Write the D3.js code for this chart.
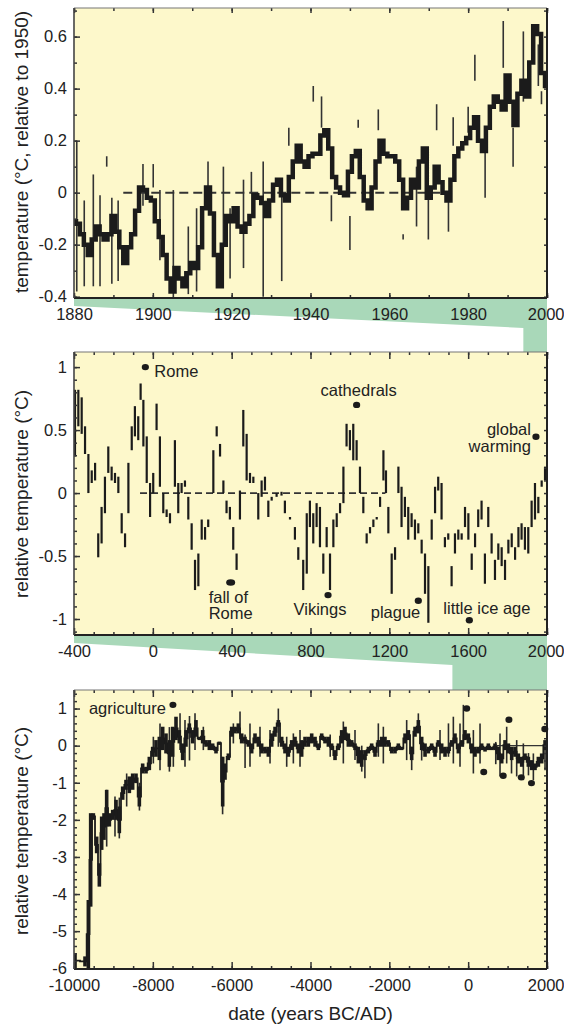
<!DOCTYPE html>
<html>
<head>
<meta charset="utf-8">
<script src="https://cdn.jsdelivr.net/npm/d3@7"></script>
<style>
body{margin:0;background:#fff;}
svg{display:block;font-family:"Liberation Sans",Arial,Helvetica,sans-serif;}
.tick text{font-size:16.5px;fill:#222;}
.domain{display:none;}
.tick line{stroke:#333;stroke-width:1.5;}
</style>
</head>
<body>
<svg id="chart" width="564" height="1029"></svg>
<script>
// ---- panel 1: instrumental record 1880-2000 (°C relative to 1950)
const modernYears = [
  1880,1881,1882,1883,1884,1885,1886,1887,1888,1889,
  1890,1891,1892,1893,1894,1895,1896,1897,1898,1899,
  1900,1901,1902,1903,1904,1905,1906,1907,1908,1909,
  1910,1911,1912,1913,1914,1915,1916,1917,1918,1919,
  1920,1921,1922,1923,1924,1925,1926,1927,1928,1929,
  1930,1931,1932,1933,1934,1935,1936,1937,1938,1939,
  1940,1941,1942,1943,1944,1945,1946,1947,1948,1949,
  1950,1951,1952,1953,1954,1955,1956,1957,1958,1959,
  1960,1961,1962,1963,1964,1965,1966,1967,1968,1969,
  1970,1971,1972,1973,1974,1975,1976,1977,1978,1979,
  1980,1981,1982,1983,1984,1985,1986,1987,1988,1989,
  1990,1991,1992,1993,1994,1995,1996,1997,1998,1999,2000];
const modernTemps = [
  -0.11,-0.12,-0.16,-0.20,-0.24,-0.18,-0.13,-0.16,-0.18,-0.16,
  -0.09,-0.15,-0.21,-0.27,-0.21,-0.16,-0.07,0.02,0.01,-0.02,
  -0.03,-0.11,-0.17,-0.24,-0.33,-0.38,-0.29,-0.33,-0.36,-0.31,
  -0.27,-0.29,-0.21,-0.06,0.02,-0.08,-0.24,-0.36,-0.20,-0.09,
  -0.11,-0.06,-0.13,-0.15,-0.12,-0.09,-0.01,-0.02,-0.04,-0.09,
  -0.03,0.03,0.05,-0.01,-0.03,0.06,0.12,0.18,0.12,0.10,
  0.14,0.15,0.15,0.22,0.24,0.17,0.06,0.02,0.00,-0.01,
  0.08,0.14,0.16,0.06,-0.03,-0.06,0.02,0.12,0.20,0.15,
  0.14,0.14,0.12,0.05,-0.06,-0.02,0.05,0.02,0.12,0.17,
  -0.02,0.02,0.10,0.04,0.00,-0.03,0.05,0.14,0.17,0.19,
  0.21,0.25,0.29,0.20,0.16,0.25,0.33,0.37,0.35,0.32,
  0.45,0.35,0.26,0.38,0.43,0.37,0.50,0.64,0.61,0.46,0.41];
// thin single-reading spikes: [year, low, high]
const modernSpikes = [
  [1880.7,-0.38,0.20],[1882.6,-0.36,-0.03],[1884.9,-0.36,0.07],[1886.6,-0.36,-0.01],
  [1888.3,0.10,0.14],[1889.6,-0.35,-0.02],[1891.2,-0.34,-0.03],[1897.5,-0.05,0.11],
  [1900.1,0.02,0.11],[1901.8,-0.26,0.01],[1905.2,-0.42,0.01],[1909,-0.39,-0.13],
  [1911.1,-0.38,-0.06],[1914,0.0,0.12],[1917.9,-0.21,0.10],[1919.6,-0.33,-0.06],
  [1923,-0.29,0.05],[1925,0.0,0.08],[1928,-0.40,0.12],[1932.7,-0.34,0.02],
  [1934.5,0.18,0.25],[1940.7,0.35,0.41],[1942.8,0.25,0.37],[1945.3,-0.11,-0.01],
  [1950,-0.22,-0.09],[1952.1,0.25,0.28],[1957.2,0.24,0.32],[1963.5,-0.18,-0.16],
  [1966.9,-0.13,0.10],[1969.9,-0.18,-0.01],[1972,0.24,0.34],[1975,-0.15,-0.01],
  [1976.2,0.18,0.29],[1980,0.23,0.33],[1981.7,0.43,0.53],[1984.3,-0.02,0.16],
  [1988.9,0.48,0.66],[1991.4,0.10,0.25],[1994,0.35,0.62],[1997.8,0.41,0.57],[1998.6,0.34,0.39]];
const modernBaseline = [1892.5, 1975];

// ---- panel 2: last 2400 years, segments low..high
const histYears = [
  -395,-378,-361,-344,-327,-310,-293,-277,-260,-243,-226,-209,-192,-175,-158,-141,-124,-107,-91,-74,
  -62,-48,-31,-14,2,19,36,53,70,87,112,129,146,163,180,197,214,231,248,265,
  281,307,324,341,358,374,391,408,425,442,459,476,493,510,535,552,569,586,603,628,
  653,670,696,721,738,763,781,797,814,831,848,865,882,899,916,933,950,967,983,1000,
  1017,1034,1051,1068,1085,1102,1119,1136,1153,1170,1183,1195,1212,1229,1246,1262,1279,1296,1313,1330,
  1347,1364,1381,1398,1415,1432,1448,1465,1482,1499,1516,1533,1550,1567,1584,1601,1618,1635,1651,1668,
  1685,1702,1719,1736,1753,1770,1787,1804,1821,1838,1855,1871,1888,1905,1922,1939,1956,1973,1990];
const histHigh = [
  0.82,0.82,0.76,0.53,0.31,0.18,0.24,-0.32,-0.11,0.13,0.37,0.21,0.16,0.13,-0.16,-0.32,0.24,0.53,0.69,0.61,
  0.87,0.74,0.45,0.08,0.16,0.71,0.45,0.00,-0.13,-0.16,0.42,0.08,0.08,0.10,-0.03,-0.24,-0.53,-0.48,-0.21,-0.27,
  -0.21,0.34,0.53,0.39,0.10,-0.06,-0.11,-0.27,-0.48,0.02,0.66,0.47,0.16,0.13,0.00,0.10,0.13,-0.06,-0.03,0.00,
  0.01,-0.06,-0.19,-0.27,-0.43,-0.53,-0.16,-0.06,-0.16,-0.08,-0.11,-0.48,-0.27,-0.48,-0.21,-0.16,-0.08,0.21,0.55,0.50,
  0.55,0.42,0.21,-0.03,-0.32,-0.27,-0.21,-0.19,-0.03,0.34,0.18,-0.11,-0.48,-0.43,0.21,0.05,-0.03,-0.11,-0.16,-0.21,
  -0.24,-0.37,-0.48,-0.58,-0.21,0.05,0.13,0.08,-0.35,-0.32,-0.58,-0.32,-0.29,-0.32,-0.11,-0.16,-0.48,-0.32,-0.13,-0.06,
  -0.48,-0.11,-0.32,-0.53,-0.40,-0.43,-0.53,-0.37,-0.32,-0.43,-0.27,-0.24,-0.27,-0.27,-0.06,0.08,-0.03,0.10,0.21];
const histLow = [
  0.29,0.53,0.47,0.31,0.00,0.08,0.10,-0.51,-0.40,-0.16,0.16,0.10,0.08,0.00,-0.32,-0.43,-0.16,0.34,0.45,0.42,
  0.74,0.37,0.08,-0.19,0.00,0.50,0.05,-0.16,-0.19,-0.24,0.05,-0.16,0.00,0.05,-0.21,-0.45,-0.77,-0.74,-0.37,-0.37,
  -0.27,0.00,0.45,0.29,0.00,-0.16,-0.21,-0.45,-0.61,-0.21,0.37,0.10,0.08,0.08,-0.21,-0.03,0.02,-0.19,-0.06,-0.03,
  -0.02,-0.16,-0.21,-0.37,-0.53,-0.77,-0.64,-0.27,-0.40,-0.27,-0.43,-0.64,-0.43,-0.77,-0.43,-0.27,-0.16,-0.08,0.37,0.34,
  0.26,0.26,0.00,-0.16,-0.40,-0.32,-0.27,-0.21,-0.11,0.10,0.00,-0.32,-0.80,-0.53,0.00,-0.27,-0.19,-0.37,-0.27,-0.37,
  -0.32,-0.48,-0.80,-1.03,-0.37,-0.16,0.02,-0.21,-0.43,-0.37,-0.74,-0.48,-0.37,-0.37,-0.27,-0.37,-0.61,-0.43,-0.27,-0.21,
  -0.72,-0.27,-0.48,-0.69,-0.53,-0.58,-0.69,-0.48,-0.43,-0.53,-0.43,-0.37,-0.45,-0.48,-0.27,-0.21,-0.16,0.05,0.10];
const histBaseline = [-65, 1180];

// ---- panel 3: Holocene, segments low..high
const holoYears = [
  -9974,-9721,-9636,-9577,-9509,-9425,-9357,-9298,-9239,-9171,-9103,-9019,-8934,-8850,-8765,-8681,-8596,-8512,-8427,-8342,
  -8258,-8173,-8089,-8004,-7920,-7835,-7750,-7666,-7581,-7497,-7412,-7328,-7243,-7159,-7074,-6989,-6905,-6820,-6736,-6651,
  -6566,-6482,-6397,-6313,-6228,-6169,-6084,-6000,-5915,-5831,-5746,-5662,-5577,-5492,-5408,-5323,-5239,-5154,-5070,-4985,
  -4900,-4816,-4731,-4647,-4562,-4478,-4393,-4308,-4224,-4139,-4055,-3970,-3885,-3801,-3716,-3632,-3547,-3463,-3378,-3293,
  -3209,-3124,-3040,-2955,-2871,-2786,-2701,-2617,-2532,-2448,-2363,-2279,-2194,-2110,-2025,-1940,-1856,-1771,-1687,-1602,
  -1517,-1433,-1348,-1264,-1179,-1094,-1010,-925,-841,-756,-672,-587,-503,-418,-334,-249,-164,-80,5,89,
  174,259,343,428,512,597,681,766,851,935,1020,1104,1189,1273,1358,1443,1527,1612,1696,1781,1865,1950];
const holoHigh = [
  -5.59,-5.68,-4.16,-1.82,-1.82,-2.45,-3.17,-1.91,-1.82,-1.19,-1.82,-1.73,-1.46,-1.64,-1.10,-0.92,-0.83,-0.75,-0.75,-1.10,
  -0.48,-0.57,-0.30,-0.03,0.15,0.24,0.51,0.33,0.15,0.51,0.78,0.42,0.06,0.42,0.60,0.42,0.69,0.24,0.42,0.15,
  0.15,0.06,-0.03,0.11,-0.30,-0.48,-0.21,0.51,0.51,0.60,0.33,0.24,0.15,0.06,0.33,0.24,0.06,-0.03,-0.03,0.33,
  0.51,0.69,0.24,0.06,-0.03,0.15,0.24,0.06,0.15,0.24,0.24,0.33,0.24,0.06,0.33,0.24,0.24,0.06,-0.12,0.06,
  0.42,0.51,0.33,0.15,0.06,-0.03,-0.12,-0.12,-0.03,0.06,-0.03,0.15,0.24,0.24,0.15,-0.03,-0.03,0.06,-0.03,0.33,
  0.42,-0.03,0.51,0.69,0.24,0.06,-0.03,0.06,-0.03,0.15,0.06,-0.03,-0.03,0.15,0.33,0.06,0.15,0.42,0.33,0.06,
  -0.03,-0.03,0.06,-0.03,0.06,-0.03,0.06,-0.03,-0.21,0.15,0.06,-0.03,-0.03,-0.21,-0.30,-0.21,-0.30,-0.39,-0.48,-0.30,-0.21,0.15];
const holoLow = [
  -6.00,-5.95,-6.00,-4.34,-2.00,-2.90,-3.80,-2.81,-2.54,-2.18,-2.18,-2.00,-2.00,-2.36,-1.46,-1.19,-1.28,-1.19,-1.01,-1.64,
  -0.75,-0.75,-0.66,-0.30,-0.30,-0.39,-0.12,-0.21,-0.57,-0.30,0.15,0.06,-0.39,-0.03,0.33,0.06,0.24,0.15,0.06,-0.03,
  -0.12,-0.12,-0.21,0.02,-1.64,-0.92,-0.39,0.24,0.33,0.33,0.06,0.06,-0.03,-0.21,0.06,-0.03,-0.21,-0.21,-0.30,-0.03,
  0.24,0.51,-0.03,-0.21,-0.30,-0.12,-0.03,-0.21,-0.30,-0.03,-0.03,0.06,-0.03,-0.12,0.15,0.06,-0.03,-0.12,-0.39,-0.12,
  0.06,0.15,-0.03,-0.03,-0.12,-0.48,-0.57,-0.39,-0.21,-0.12,-0.30,-0.03,-0.03,-0.03,-0.03,-0.21,-0.21,-0.12,-0.12,0.06,
  0.15,-0.39,0.24,0.33,-0.12,-0.30,-0.21,-0.12,-0.30,-0.03,-0.21,-0.30,-0.21,-0.03,0.06,-0.21,-0.03,0.15,0.06,-0.21,
  -0.30,-0.21,-0.12,-0.16,-0.12,-0.12,-0.12,-0.39,-0.48,-0.12,-0.21,-0.39,-0.30,-0.48,-0.57,-0.39,-0.57,-0.66,-0.66,-0.57,-0.48,-0.12];
const holoSpikes = [
  [-9171,-2.72,-1.19],[-8960,-2.45,-1.37],[-8850,-2.5,-1.4],[-8664,-1.64,-0.75],[-8340,-1.75,-1.0],
  [-7987,-0.48,0.24],[-7818,-0.66,0.60],[-7580,-0.7,0.5],[-7480,-0.57,0.42],[-7310,-0.12,0.87],
  [-7184,-0.57,0.69],[-7070,-0.4,0.8],[-6930,-0.12,0.87],[-6719,-0.12,0.51],[-6230,-1.85,-0.3],
  [-5957,0.06,0.60],[-5788,0.24,0.92],[-5660,-0.6,0.3],[-5535,-0.57,0.60],[-5281,-0.30,0.51],
  [-5027,-0.48,0.42],[-4816,-0.03,1.0],[-4604,-0.57,0.24],[-4435,-0.48,0.33],[-4266,-0.57,0.42],
  [-3500,-0.3,0.3],[-3167,-0.48,0.65],[-2871,-0.39,0.42],[-2700,-0.7,0.0],[-2620,-0.88,-0.2],
  [-2279,-0.30,0.60],[-2152,-0.48,0.51],[-1560,-0.39,0.69],[-1433,-0.66,-0.03],[-1264,0.42,0.87],
  [-1180,-0.4,0.2],[-714,-0.39,0.42],[-500,-0.3,0.6],[-376,-0.48,0.78],[-207,-0.57,0.60],
  [-122,-0.03,1.1],[132,-0.75,0.42],[301,-0.48,0.60],[700,-0.5,0.1],[808,-0.83,0.33],
  [977,-0.48,0.51],[1100,-0.75,-0.1],[1231,-0.83,0.15],[1400,-0.93,0.06],[1530,-0.8,-0.2],
  [1654,-0.93,-0.21],[1950,-0.66,-0.03]];
const holoBaseline = [730, 2000];

// ---- historical events
const eventNames = ["Rome","fall of Rome","Vikings","cathedrals","plague","little ice age","global warming"];
const eventYears = [-38, 395, 889, 1034, 1347, 1606, 1944];
const eventTemps = [1.0, -0.71, -0.81, 0.70, -0.855, -1.01, 0.447];
const agriEvent = {name:"agriculture", year:-7490, temp:1.1};

// ---- tick labels
const modernXTicks = [1880,1900,1920,1940,1960,1980,2000];
const modernYTicks = [-0.4,-0.2,0,0.2,0.4,0.6];
const histXTicks = [-400,0,400,800,1200,1600,2000];
const histYTicks = [-1,-0.5,0,0.5,1];
const holoXTicks = [-10000,-8000,-6000,-4000,-2000,0,2000];
const holoYTicks = [-6,-5,-4,-3,-2,-1,0,1];

// label placement (pixel offsets from the event dot)
const labelLayout = {
  "Rome":{dx:9,dy:[9.5],anchor:"start"},
  "fall of Rome":{dx:-22,dy:[21,37],anchor:"start",lines:["fall of","Rome"]},
  "Vikings":{dx:-8,dy:[20],anchor:"middle"},
  "cathedrals":{dx:-36,dy:[-9],anchor:"start"},
  "plague":{dx:2,dy:[17],anchor:"end"},
  "little ice age":{dx:-26,dy:[-6],anchor:"start"},
  "global warming":{dx:-5,dy:[-2,15],anchor:"end",lines:["global","warming"]}
};

const svg = d3.select("#chart");
const L = 74, R = 547;
const bg = "#fdf8cb", green = "#a9d8b9", ink = "#1b1b1b";

const p1 = {top:8, bottom:298};
const p2 = {top:352, bottom:635};
const p3 = {top:690, bottom:969};

const x1 = d3.scaleLinear().domain([1880,2000]).range([L,R]);
const y1 = d3.scaleLinear().domain([-0.405,0.71]).range([p1.bottom,p1.top]);
const x2 = d3.scaleLinear().domain([-400,2000]).range([L,R]);
const y2 = d3.scaleLinear().domain([-1.127,1.12]).range([p2.bottom,p2.top]);
const x3 = d3.scaleLinear().domain([-10000,2000]).range([L,R]);
const y3 = d3.scaleLinear().domain([-6.02,1.5]).range([p3.bottom,p3.top]);

// green "zoom" bands linking the panels
function band(pTop, pNext, xz) {
  const pts = [[L,pTop.bottom],[R,pTop.bottom],[R,pNext.top],[xz,pNext.top],[xz,pTop.bottom+30],[L,pTop.bottom+8]];
  svg.append("polygon").attr("points", pts.map(p => p.join(",")).join(" ")).attr("fill", green);
}
band(p1, p2, x2(1880));
band(p2, p3, x3(-400));

// panel backgrounds + clip paths
[p1,p2,p3].forEach((p,i) => {
  svg.append("rect").attr("x",L).attr("y",p.top).attr("width",R-L).attr("height",p.bottom-p.top).attr("fill",bg);
  svg.append("clipPath").attr("id","clip"+i).append("rect")
    .attr("x",L).attr("y",p.top).attr("width",R-L).attr("height",p.bottom-p.top);
});

function fmt(d){ return String(d); }

function axes(p, x, y, o) {
  const g = svg.append("g");
  // bottom labelled axis, inward ticks
  g.append("g").attr("transform",`translate(0,${p.bottom})`)
    .call(d3.axisBottom(x).tickValues(o.xMinor).tickSize(-o.minorLen).tickFormat(""));
  const bx = g.append("g").attr("transform",`translate(0,${p.bottom})`)
    .call(d3.axisBottom(x).tickValues(o.xMajor).tickSize(-o.majorLen).tickPadding(10).tickFormat(fmt));
  // keep the last label inside the page
  bx.selectAll(".tick text").filter(d => d === x.domain()[1])
    .attr("text-anchor","end").attr("x",17);
  // top ticks
  g.append("g").attr("transform",`translate(0,${p.top})`)
    .call(d3.axisTop(x).tickValues(o.xMinor).tickSize(-o.minorLen).tickFormat(""));
  g.append("g").attr("transform",`translate(0,${p.top})`)
    .call(d3.axisTop(x).tickValues(o.xMajor).tickSize(-o.majorLen).tickFormat(""));
  // left axis
  g.append("g").attr("transform",`translate(${L},0)`)
    .call(d3.axisLeft(y).tickValues(o.yMinor).tickSize(-3).tickFormat(""));
  g.append("g").attr("transform",`translate(${L},0)`)
    .call(d3.axisLeft(y).tickValues(o.yMajor).tickSize(-6).tickPadding(7).tickFormat(fmt));
  // right axis
  g.append("g").attr("transform",`translate(${R},0)`)
    .call(d3.axisRight(y).tickValues(o.yMinor).tickSize(-3).tickFormat(""));
  g.selectAll(".tick text").attr("fill","#222");
  // frame
  g.append("line").attr("x1",L).attr("x2",R).attr("y1",p.top).attr("y2",p.top).attr("stroke","#777").attr("stroke-width",1.2);
  g.append("line").attr("x1",L).attr("x2",R).attr("y1",p.bottom).attr("y2",p.bottom).attr("stroke","#222").attr("stroke-width",2);
  g.append("line").attr("x1",L).attr("x2",L).attr("y1",p.top).attr("y2",p.bottom).attr("stroke","#444").attr("stroke-width",1.6);
  g.append("line").attr("x1",R).attr("x2",R).attr("y1",p.top).attr("y2",p.bottom).attr("stroke","#222").attr("stroke-width",2);
}

function ticksBetween(a, b, step) {
  const out = [];
  for (let v = a; v <= b + 1e-9; v += step) out.push(+v.toFixed(4));
  return out;
}

// ---------- panel 1
const g1 = svg.append("g").attr("clip-path","url(#clip0)");
g1.append("line")
  .attr("x1",x1(modernBaseline[0])).attr("x2",x1(modernBaseline[1]))
  .attr("y1",y1(0)).attr("y2",y1(0))
  .attr("stroke","#333").attr("stroke-width",2).attr("stroke-dasharray","9,5");
g1.selectAll("line.spike").data(modernSpikes).join("line").attr("class","spike")
  .attr("x1",d => x1(d[0])).attr("x2",d => x1(d[0]))
  .attr("y1",d => y1(d[1])).attr("y2",d => y1(d[2]))
  .attr("stroke","#333").attr("stroke-width",1.6);
const modernData = modernYears.map((yr,i) => ({yr, t:modernTemps[i]}));
g1.append("path").datum(modernData)
  .attr("d", d3.line().x(d => x1(d.yr)).y(d => y1(d.t)).curve(d3.curveStep))
  .attr("fill","none").attr("stroke",ink).attr("stroke-width",4.5);
axes(p1, x1, y1, {
  xMajor:modernXTicks, xMinor:ticksBetween(1880,2000,10), majorLen:5, minorLen:3,
  yMajor:modernYTicks, yMinor:ticksBetween(-0.4,0.7,0.1)
});

// ---------- panel 2
const g2 = svg.append("g").attr("clip-path","url(#clip1)");
g2.append("line")
  .attr("x1",x2(histBaseline[0])).attr("x2",x2(histBaseline[1]))
  .attr("y1",y2(0)).attr("y2",y2(0))
  .attr("stroke","#333").attr("stroke-width",1.7).attr("stroke-dasharray","7,4");
g2.selectAll("line.seg").data(histYears).join("line").attr("class","seg")
  .attr("x1",d => x2(d)).attr("x2",d => x2(d))
  .attr("y1",(d,i) => y2(histHigh[i])).attr("y2",(d,i) => y2(histLow[i]))
  .attr("stroke",ink).attr("stroke-width",2.2);
axes(p2, x2, y2, {
  xMajor:histXTicks, xMinor:ticksBetween(-400,2000,100), majorLen:7, minorLen:3,
  yMajor:histYTicks, yMinor:ticksBetween(-1.1,1.1,0.1)
});

// event dots + labels (panel 2)
eventNames.forEach((name,i) => {
  const cx = x2(eventYears[i]), cy = y2(eventTemps[i]);
  svg.append("ellipse").attr("cx",cx).attr("cy",cy).attr("rx",name==="fall of Rome"?4.5:3.6).attr("ry",3.2).attr("fill",ink);
  const lay = labelLayout[name];
  const lines = lay.lines || [name];
  lines.forEach((txt,k) => {
    svg.append("text").attr("x",cx+lay.dx).attr("y",cy+lay.dy[k])
      .attr("text-anchor",lay.anchor).attr("font-size",16.5).attr("fill","#222").text(txt);
  });
});

// ---------- panel 3
const g3 = svg.append("g").attr("clip-path","url(#clip2)");
g3.append("line")
  .attr("x1",x3(holoBaseline[0])).attr("x2",x3(holoBaseline[1]))
  .attr("y1",y3(0)).attr("y2",y3(0))
  .attr("stroke","#333").attr("stroke-width",1.3);
g3.selectAll("line.spike").data(holoSpikes).join("line").attr("class","spike")
  .attr("x1",d => x3(d[0])).attr("x2",d => x3(d[0]))
  .attr("y1",d => y3(d[1])).attr("y2",d => y3(d[2]))
  .attr("stroke","#2a2a2a").attr("stroke-width",1.6);
g3.append("path").datum(holoYears.map((yr,i) => ({yr, t:(holoHigh[i]+holoLow[i])/2})))
  .attr("d", d3.line().x(d => x3(d.yr)).y(d => y3(d.t)).curve(d3.curveStep))
  .attr("fill","none").attr("stroke",ink).attr("stroke-width",1.8);
g3.selectAll("line.seg").data(holoYears).join("line").attr("class","seg")
  .attr("x1",d => x3(d)).attr("x2",d => x3(d))
  .attr("y1",(d,i) => y3(holoHigh[i])).attr("y2",(d,i) => y3(holoLow[i]))
  .attr("stroke",ink).attr("stroke-width",3.6);
axes(p3, x3, y3, {
  xMajor:holoXTicks, xMinor:ticksBetween(-10000,2000,500), majorLen:7, minorLen:3,
  yMajor:holoYTicks, yMinor:ticksBetween(-6,1.4,0.2)
});

// event dots in panel 3
eventNames.forEach((name,i) => {
  svg.append("ellipse").attr("cx",x3(eventYears[i])).attr("cy",y3(eventTemps[i]))
    .attr("rx",3.5).attr("ry",3.2).attr("fill",ink);
});
svg.append("ellipse").attr("cx",x3(agriEvent.year)).attr("cy",y3(agriEvent.temp))
  .attr("rx",3.5).attr("ry",3.2).attr("fill",ink);
svg.append("text").attr("x",x3(agriEvent.year)-7).attr("y",y3(agriEvent.temp)+9)
  .attr("text-anchor","end").attr("font-size",16.5).attr("fill","#222").text(agriEvent.name);

// ---------- axis titles
function yTitle(text, cy) {
  svg.append("text").attr("transform",`translate(28,${cy}) rotate(-90)`)
    .attr("text-anchor","middle").attr("font-size",19).attr("fill","#222").text(text);
}
yTitle("temperature (°C, relative to 1950)", 152);
yTitle("relative temperature (°C)", 494);
yTitle("relative temperature (°C)", 831);
svg.append("text").attr("x",(L+R)/2).attr("y",1020).attr("text-anchor","middle")
  .attr("font-size",19).attr("fill","#222").text("date (years BC/AD)");
</script>
</body>
</html>
